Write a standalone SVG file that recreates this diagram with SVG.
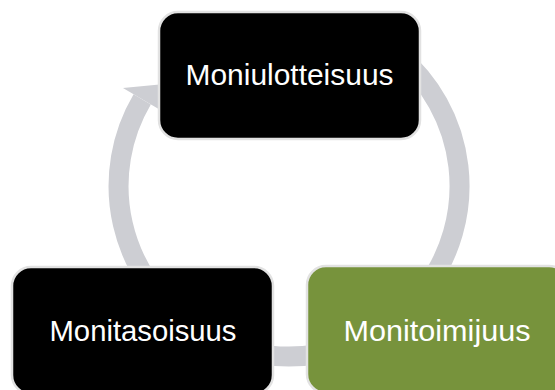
<svg xmlns="http://www.w3.org/2000/svg" width="555" height="390" viewBox="0 0 555 390">
  <style>
    .ring { fill: none; stroke: #cdced3; stroke-width: 20; }
    .head { fill: #cdced3; }
    .box { stroke: #e2e2e2; stroke-width: 2.5; }
    .dark { fill: #000000; }
    .green { fill: #77933c; }
    .label { fill: #ffffff; font-family: "Liberation Sans", Arial, sans-serif; font-size: 30px; text-anchor: middle; }
  </style>
  <rect width="555" height="390" fill="#ffffff"/>
  <g id="connectors">
    <path class="ring" d="M 142.2 99.4 A 170.5 170.5 0 1 0 398.6 55.4"/>
    <polygon class="head" points="123,88 175,83 161.6,110.8"/>
  </g>
  <g id="node-moniulotteisuus">
    <rect class="box dark" x="159" y="12" width="261" height="127" rx="19" ry="19"/>
    <text class="label" x="289.5" y="85" textLength="208" lengthAdjust="spacingAndGlyphs">Moniulotteisuus</text>
  </g>
  <g id="node-monitasoisuus">
    <rect class="box dark" x="12" y="267" width="261" height="127" rx="19" ry="19"/>
    <text class="label" x="143" y="341" textLength="187" lengthAdjust="spacingAndGlyphs">Monitasoisuus</text>
  </g>
  <g id="node-monitoimijuus">
    <rect class="box green" x="307" y="266" width="261" height="127" rx="19" ry="19"/>
    <text class="label" x="437" y="341" textLength="187" lengthAdjust="spacingAndGlyphs">Monitoimijuus</text>
  </g>
</svg>
